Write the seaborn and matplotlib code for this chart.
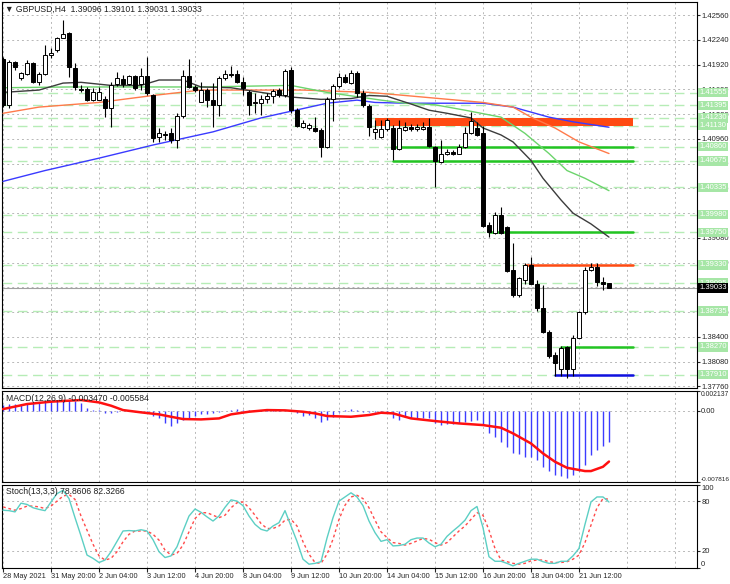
#importing libraries
import numpy as np
import seaborn as sns
import matplotlib.pyplot as plt
import matplotlib.transforms as mtransforms

#GBPUSD H4 candles (bar index 0 = 28 May 2021)
opens = [1.4199, 1.4140, 1.4195, 1.4174, 1.4180, 1.4194, 1.4169, 1.4180, 1.4204, 1.4211,
         1.4226, 1.4233, 1.4187, 1.4160, 1.4160, 1.4146, 1.4146, 1.4147, 1.4136, 1.4167,
         1.4173, 1.4167, 1.4177, 1.4167, 1.4177, 1.4152, 1.4098, 1.4102, 1.4103, 1.4094,
         1.4125, 1.4177, 1.4163, 1.4143, 1.4159, 1.4146, 1.4140, 1.4174, 1.4180, 1.4180,
         1.4169, 1.4156, 1.4142, 1.4142, 1.4147, 1.4151, 1.4159, 1.4152, 1.4185, 1.4133,
         1.4111, 1.4110, 1.4110, 1.4107, 1.4085, 1.4147, 1.4164, 1.4176, 1.4168, 1.4181,
         1.4155, 1.4138, 1.4105, 1.4098, 1.4109, 1.4110, 1.4083, 1.4107, 1.4111, 1.4109,
         1.4109, 1.4111, 1.4085, 1.4066, 1.4077, 1.4079, 1.4077, 1.4085, 1.4103, 1.4110,
         1.4103, 1.3985, 1.3974, 1.3997, 1.3982, 1.3926, 1.3894, 1.3914, 1.3933, 1.3909,
         1.3877, 1.3847, 1.3816, 1.3799, 1.3827, 1.3799, 1.3839, 1.3872, 1.3926, 1.3931,
         1.3911, 1.39096]
highs = [1.4202, 1.4198, 1.4196, 1.4182, 1.4198, 1.4195, 1.4182, 1.4217, 1.4213, 1.4228,
         1.4250, 1.4234, 1.4194, 1.4165, 1.4163, 1.4162, 1.4163, 1.4151, 1.4169, 1.4182,
         1.4178, 1.4178, 1.4178, 1.4187, 1.4202, 1.4154, 1.4110, 1.4106, 1.4110, 1.4129,
         1.4185, 1.4199, 1.4165, 1.4169, 1.4162, 1.4168, 1.4177, 1.4185, 1.4190, 1.4185,
         1.4176, 1.4159, 1.4155, 1.4152, 1.4155, 1.4160, 1.4162, 1.4186, 1.4189, 1.4136,
         1.4120, 1.4116, 1.4124, 1.4110, 1.4150, 1.4167, 1.4181, 1.4180, 1.4185, 1.4184,
         1.4159, 1.4141, 1.4120, 1.4120, 1.4123, 1.4114, 1.4120, 1.4118, 1.4115, 1.4115,
         1.4118, 1.4123, 1.4087, 1.4094, 1.4083, 1.4081, 1.4089, 1.4111, 1.4131, 1.4118,
         1.4112, 1.3988, 1.4001, 1.4008, 1.3983, 1.3961, 1.3917, 1.3935, 1.3943, 1.3914,
         1.3907, 1.3849, 1.3820, 1.3828, 1.3828, 1.3842, 1.3874, 1.3930, 1.3935, 1.3935,
         1.3917, 1.39101]
lows = [1.4137, 1.4136, 1.4185, 1.4172, 1.4178, 1.4168, 1.4165, 1.4178, 1.4200, 1.4208,
        1.4226, 1.4176, 1.4159, 1.4156, 1.4145, 1.4145, 1.4146, 1.4124, 1.4111, 1.4164,
        1.4163, 1.4165, 1.4159, 1.4159, 1.4152, 1.4092, 1.4092, 1.4094, 1.4090, 1.4084,
        1.4123, 1.4162, 1.4156, 1.4143, 1.4137, 1.4111, 1.4125, 1.4172, 1.4176, 1.4168,
        1.4152, 1.4127, 1.4129, 1.4127, 1.4142, 1.4142, 1.4150, 1.4150, 1.4130, 1.4111,
        1.4110, 1.4108, 1.4105, 1.4072, 1.4084, 1.4119, 1.4162, 1.4168, 1.4167, 1.4150,
        1.4137, 1.4099, 1.4096, 1.4097, 1.4106, 1.4068, 1.4081, 1.4106, 1.4106, 1.4106,
        1.4107, 1.4085, 1.4034, 1.4065, 1.4075, 1.4075, 1.4076, 1.4084, 1.4102, 1.4099,
        1.3982, 1.3969, 1.3973, 1.3973, 1.3924, 1.3892, 1.3892, 1.3908, 1.3908, 1.3874,
        1.3845, 1.3813, 1.3790, 1.3789, 1.3787, 1.3790, 1.3838, 1.3870, 1.3925, 1.3906,
        1.3900, 1.39031]
closes = [1.4140, 1.4195, 1.4189, 1.4181, 1.4194, 1.4169, 1.4180, 1.4204, 1.4207, 1.4226,
          1.4231, 1.4189, 1.4163, 1.4159, 1.4146, 1.4156, 1.4156, 1.4136, 1.4165, 1.4174,
          1.4167, 1.4177, 1.4162, 1.4177, 1.4155, 1.4097, 1.4103, 1.4101, 1.4094, 1.4125,
          1.4177, 1.4163, 1.4159, 1.4159, 1.4146, 1.4140, 1.4174, 1.4180, 1.4179, 1.4169,
          1.4162, 1.4140, 1.4143, 1.4147, 1.4151, 1.4158, 1.4152, 1.4184, 1.4133, 1.4112,
          1.4116, 1.4114, 1.4106, 1.4085, 1.4147, 1.4164, 1.4176, 1.4169, 1.4181, 1.4155,
          1.4140, 1.4111, 1.4109, 1.4109, 1.4120, 1.4083, 1.4110, 1.4111, 1.4109, 1.4111,
          1.4111, 1.4087, 1.4067, 1.4077, 1.4079, 1.4077, 1.4085, 1.4103, 1.4119, 1.4101,
          1.3983, 1.3975, 1.3997, 1.3974, 1.3925, 1.3894, 1.3916, 1.3933, 1.3909, 1.3877,
          1.3846, 1.3815, 1.3806, 1.3826, 1.3799, 1.3839, 1.3872, 1.3927, 1.3931, 1.3911,
          1.3909, 1.39033]
bars = np.arange(len(closes))

#moving averages read at some bars
ma_black_x = [0, 6, 10, 13, 18, 23, 26, 30, 33, 38, 43, 48, 53, 58, 61, 64, 68, 71, 74, 78, 80, 83, 85, 88, 90, 93, 95, 98, 101]
ma_black_y = [1.4156, 1.4159, 1.4168, 1.4169, 1.4165, 1.4165, 1.4172, 1.4172, 1.4163, 1.4162, 1.4156, 1.4150, 1.4147, 1.4148,
              1.4152, 1.4151, 1.4141, 1.4133, 1.4129, 1.4123, 1.4110, 1.4101, 1.4092, 1.4068, 1.4045, 1.4017, 1.4000, 1.3986, 1.3969]
ma_green_x = [0, 11, 33, 48, 54, 63, 67, 72, 77, 83, 87, 91, 94, 97, 101]
ma_green_y = [1.4162, 1.4163, 1.4163, 1.4165, 1.4156, 1.4146, 1.4142, 1.4140, 1.4133, 1.4124, 1.4103, 1.4077, 1.4055, 1.4045, 1.4029]
ma_orange_x = [0, 6, 16, 25, 33, 50, 61, 67, 80, 85, 88, 92, 96, 101]
ma_orange_y = [1.4129, 1.4137, 1.4143, 1.4152, 1.4159, 1.4159, 1.4156, 1.4152, 1.4143, 1.4137, 1.4124, 1.4110, 1.4092, 1.4077]
ma_blue_x = [0, 7, 16, 25, 35, 43, 54, 59, 62, 67, 80, 85, 91, 95, 101]
ma_blue_y = [1.4041, 1.4055, 1.4071, 1.4088, 1.4105, 1.4123, 1.4142, 1.4146, 1.4143, 1.4142, 1.4142, 1.4137, 1.4124, 1.4118, 1.4111]

#support / resistance levels
levels = [1.41555, 1.41395, 1.41230, 1.41130, 1.40860, 1.40675, 1.40335,
          1.39980, 1.39750, 1.39330, 1.39095, 1.38735, 1.38270, 1.37910]
zone_low, zone_high, zone_start = 1.41130, 1.41230, 62
seg_prices = [1.40860, 1.40675, 1.39750, 1.39330, 1.38270, 1.37910]
seg_start = [65, 65, 81, 87, 93, 92]
seg_colors = ['#22c422', '#22c422', '#22c422', '#ff4a12', '#22c422', '#1010e0']
seg_end = 105
last_price = 1.39033

price_ticks = [1.42560, 1.42240, 1.41920, 1.41600, 1.41280, 1.40960, 1.40640, 1.40320,
               1.40000, 1.39680, 1.39360, 1.39040, 1.38720, 1.38400, 1.38080, 1.37760]

#MACD(12,26,9)
macd_hist = [0.00060, 0.00068, 0.00071, 0.00071, 0.00078, 0.00086, 0.00089, 0.00097, 0.00104, 0.00111,
             0.00115, 0.00115, 0.00108, 0.00078, 0.00024, 0.00009, 0.00002, -0.00031, -0.00031, -0.00013,
             -0.00005, -0.00005, -0.00013, -0.00013, -0.00031, -0.00057, -0.00086, -0.00141, -0.00166, -0.00141,
             -0.00104, -0.00086, -0.00057, -0.00042, -0.00042, -0.00031, -0.00013, -0.00005, 0.00002, 0.00016,
             0.00009, 0.00002, 0.00002, 0.00002, 0.00005, 0.00005, 0.00002, -0.00002, -0.00005, -0.00031,
             -0.00057, -0.00049, -0.00086, -0.00122, -0.00104, -0.00068, -0.00013, 0.00009, 0.00016, 0.00002,
             -0.00013, -0.00020, -0.00013, -0.00020, -0.00031, -0.00086, -0.00104, -0.00068, -0.00086, -0.00086,
             -0.00086, -0.00086, -0.00141, -0.00159, -0.00151, -0.00151, -0.00141, -0.00122, -0.00115, -0.00104,
             -0.00151, -0.00250, -0.00287, -0.00341, -0.00396, -0.00469, -0.00480, -0.00506, -0.00506, -0.00542,
             -0.00615, -0.00662, -0.00706, -0.00714, -0.00735, -0.00706, -0.00662, -0.00597, -0.00487, -0.00433,
             -0.00385, -0.00347]
macd_sig_x = [0, 4, 8, 13, 16, 18, 20, 23, 26, 28, 30, 33, 36, 38, 41, 44, 47, 50, 52, 54, 58, 61, 63, 65,
              68, 72, 76, 80, 83, 85, 88, 90, 92, 94, 97, 98, 100, 101]
macd_sig_y = [0.00016, 0.00071, 0.00097, 0.00115, 0.00089, 0.00053, 0.00005, -0.00020, -0.00042, -0.00068,
              -0.00093, -0.00097, -0.00086, -0.00042, -0.00013, 0.00005, 0.00002, -0.00013, -0.00031, -0.00060,
              -0.00068, -0.00049, -0.00024, -0.00031, -0.00086, -0.00115, -0.00141, -0.00159, -0.00188, -0.00250,
              -0.00360, -0.00469, -0.00560, -0.00626, -0.00662, -0.00662, -0.00615, -0.00558]

#Stochastic(13,3,3)
stoch_main = [69, 68.5, 67, 77.5, 76, 72, 70, 68.5, 79, 89, 93, 83, 60, 38, 15, 11, 6, 9, 19, 31.5,
              44, 44.5, 44, 45.5, 44, 33.5, 19, 12, 14, 25, 44, 62, 70.5, 66.5, 61, 56, 62, 72.5, 81.5, 80,
              74.5, 62, 52, 46, 44, 50, 54, 68.5, 50, 31.5, 10, 4, 5, 7, 35.5, 60, 80, 85, 90, 85,
              74.5, 56, 42, 31.5, 33.5, 26, 26.5, 28, 33.5, 35.5, 35.5, 29.5, 25, 28, 37.5, 44, 50, 57, 68.5, 73.5,
              48, 13, 7.5, 7.5, 5, 2, 5, 7.5, 10, 10, 7, 5, 5, 7.5, 7.5, 14, 23, 52, 79, 85,
              85, 78.9]
stoch_sig = [73, 71, 69, 71, 74, 74, 73, 71, 74, 80, 86, 88, 82, 62, 45, 28, 14, 9, 11, 19,
             31, 40, 44, 44, 44, 40, 33, 21, 15, 17, 27, 43, 59, 66, 66, 63, 60, 63, 72, 78,
             79, 72, 63, 53, 47, 47, 50, 57, 58, 50, 31, 16, 6, 5, 16, 34, 58, 75, 85, 87,
             83, 72, 57, 43, 36, 30, 29, 27, 29, 32, 35, 34, 30, 27, 30, 37, 44, 50, 58, 66,
             63, 45, 23, 9, 7, 5, 4, 5, 8, 9, 9, 7, 6, 6, 7, 10, 15, 30, 51, 72,
             83, 82.3]

time_ticks = [0, 8, 16, 24, 32, 40, 48, 56, 64, 72, 80, 88, 96]
time_labels = ['28 May 2021', '31 May 20:00', '2 Jun 04:00', '3 Jun 12:00', '4 Jun 20:00',
               '8 Jun 04:00', '9 Jun 12:00', '10 Jun 20:00', '14 Jun 04:00', '15 Jun 12:00',
               '16 Jun 20:00', '18 Jun 04:00', '21 Jun 12:00']

sns.set_style("white")
plt.rcParams['font.family'] = ['Liberation Sans', 'DejaVu Sans']
fs = 5.5

fig = plt.figure(figsize=(7.30, 5.84), dpi=100)
L, W = 2/730, 695/730
ax = fig.add_axes([L, 1-388/584, W, 386/584])
axm = fig.add_axes([L, 1-482/584, W, 91/584], sharex=ax)
axs = fig.add_axes([L, 1-567.5/584, W, 83/584], sharex=ax)

grid_kw = dict(color='#b8b8b8', lw=0.7, ls=(0, (2, 3)))
for a in (ax, axm, axs):
    for t in range(0, 120, 8):
        a.axvline(t, zorder=0, **grid_kw)
    for s in a.spines.values():
        s.set_color('black')
        s.set_linewidth(0.8)
    a.yaxis.tick_right()
    a.tick_params(axis='y', labelsize=fs, length=2, pad=1, width=0.8, direction='out', right=True)
    a.tick_params(axis='x', labelsize=fs, length=3, pad=1, width=0.8, direction='out', bottom=True)

ax.set_xlim(-0.17, 115.67)
ax.set_ylim(1.37740, 1.42728)
for p in price_ticks:
    ax.axhline(p, zorder=0, **grid_kw)

#levels
for p in levels:
    ax.axhline(p, color='#b6ecb6', lw=1, ls=(0, (7, 4)), zorder=1)
ax.axhline(last_price, color='#a0a0a0', lw=0.8, zorder=1)
ax.fill_between([zone_start, seg_end], zone_low, zone_high, color='#ff4a12', lw=0, zorder=2)
for p, s, c in zip(seg_prices, seg_start, seg_colors):
    ax.plot([s, seg_end], [p, p], color=c, lw=1.8, zorder=2)

#moving averages
sns.lineplot(x=ma_blue_x, y=ma_blue_y, ax=ax, color='#3a3aff', lw=1, zorder=3)
sns.lineplot(x=ma_orange_x, y=ma_orange_y, ax=ax, color='#ff7a4a', lw=1, zorder=3)
sns.lineplot(x=ma_green_x, y=ma_green_y, ax=ax, color='#6cd46c', lw=1, zorder=3)
sns.lineplot(x=ma_black_x, y=ma_black_y, ax=ax, color='#3c3c3c', lw=1, zorder=3)

#candles
o = np.array(opens); c = np.array(closes)
ax.vlines(bars, lows, highs, color='black', lw=0.8, zorder=4)
body_low = np.minimum(o, c)
body_h = np.maximum(np.abs(c - o), 0.00003)
body_col = ['white' if cc >= oo else 'black' for oo, cc in zip(o, c)]
ax.bar(bars, body_h, bottom=body_low, width=0.62, color=body_col, edgecolor='black', linewidth=0.7, zorder=5)

ax.set_yticks(price_ticks)
ax.set_yticklabels([f'{p:.5f}' for p in price_ticks])
ax.tick_params(axis='x', labelbottom=False, bottom=False)

tr = mtransforms.blended_transform_factory(ax.transAxes, ax.transData)
for p in levels:
    ax.text(1.003, p, f'{p:.5f}', transform=tr, va='center', ha='left', fontsize=fs, color='white',
            bbox=dict(boxstyle='square,pad=0.15', fc='#a6e6a6', ec='none'), clip_on=False, zorder=10)
ax.text(1.003, last_price, f'{last_price:.5f}', transform=tr, va='center', ha='left', fontsize=fs,
        color='white', bbox=dict(boxstyle='square,pad=0.15', fc='black', ec='none'), clip_on=False, zorder=11)

ax.text(0.004, 0.994, '\u25bc GBPUSD,H4  1.39096 1.39101 1.39031 1.39033', transform=ax.transAxes,
        va='top', ha='left', fontsize=6.2, color='#202020')

#MACD panel
axm.set_ylim(-0.007816, 0.002137)
axm.axhline(0, zorder=0, **grid_kw)
axm.vlines(bars, 0, macd_hist, color='#3c3cff', lw=1, zorder=2)
sns.lineplot(x=macd_sig_x, y=macd_sig_y, ax=axm, color='#ff1010', lw=1.8, zorder=3)
axm.set_yticks([0.002137, 0.0, -0.007816])
axm.set_yticklabels(['0.002137', '0.00', '-0.007816'])
axm.tick_params(axis='y', pad=0.5)
ml = axm.get_yticklabels()
ml[0].set_va('top'); ml[2].set_va('bottom')
ml[0].set_fontsize(4.9); ml[2].set_fontsize(4.6)
axm.tick_params(axis='x', labelbottom=False, bottom=False)
axm.text(0.006, 0.97, 'MACD(12,26,9) -0.003470 -0.005584', transform=axm.transAxes,
         va='top', ha='left', fontsize=6.2, color='#202020')

#Stochastic panel
axs.set_ylim(0, 100)
for lv in (80, 20):
    axs.axhline(lv, zorder=0, **grid_kw)
sns.lineplot(x=bars, y=stoch_main, ax=axs, color='#5ccfc4', lw=1, zorder=3)
sns.lineplot(x=bars, y=stoch_sig, ax=axs, color='#ff4a4a', lw=1, ls=(0, (2, 2)), zorder=2)
axs.set_yticks([100, 80, 20, 0])
axs.set_yticklabels(['100', '80', '20', '0'])
sl = axs.get_yticklabels()
sl[0].set_va('top'); sl[3].set_va('bottom')
axs.text(0.006, 0.97, 'Stoch(13,3,3) 78.8606 82.3266', transform=axs.transAxes,
         va='top', ha='left', fontsize=6.2, color='#202020')

axs.set_xticks(time_ticks)
axs.set_xticklabels(time_labels)
for lbl in axs.get_xticklabels():
    lbl.set_ha('left')
    lbl.set_fontsize(5.3)

for a in (ax, axm, axs):
    a.set_xlabel('')
    a.set_ylabel('')
ax.set_xlim(-0.17, 115.67)

fig.savefig('out.png', dpi=100)
